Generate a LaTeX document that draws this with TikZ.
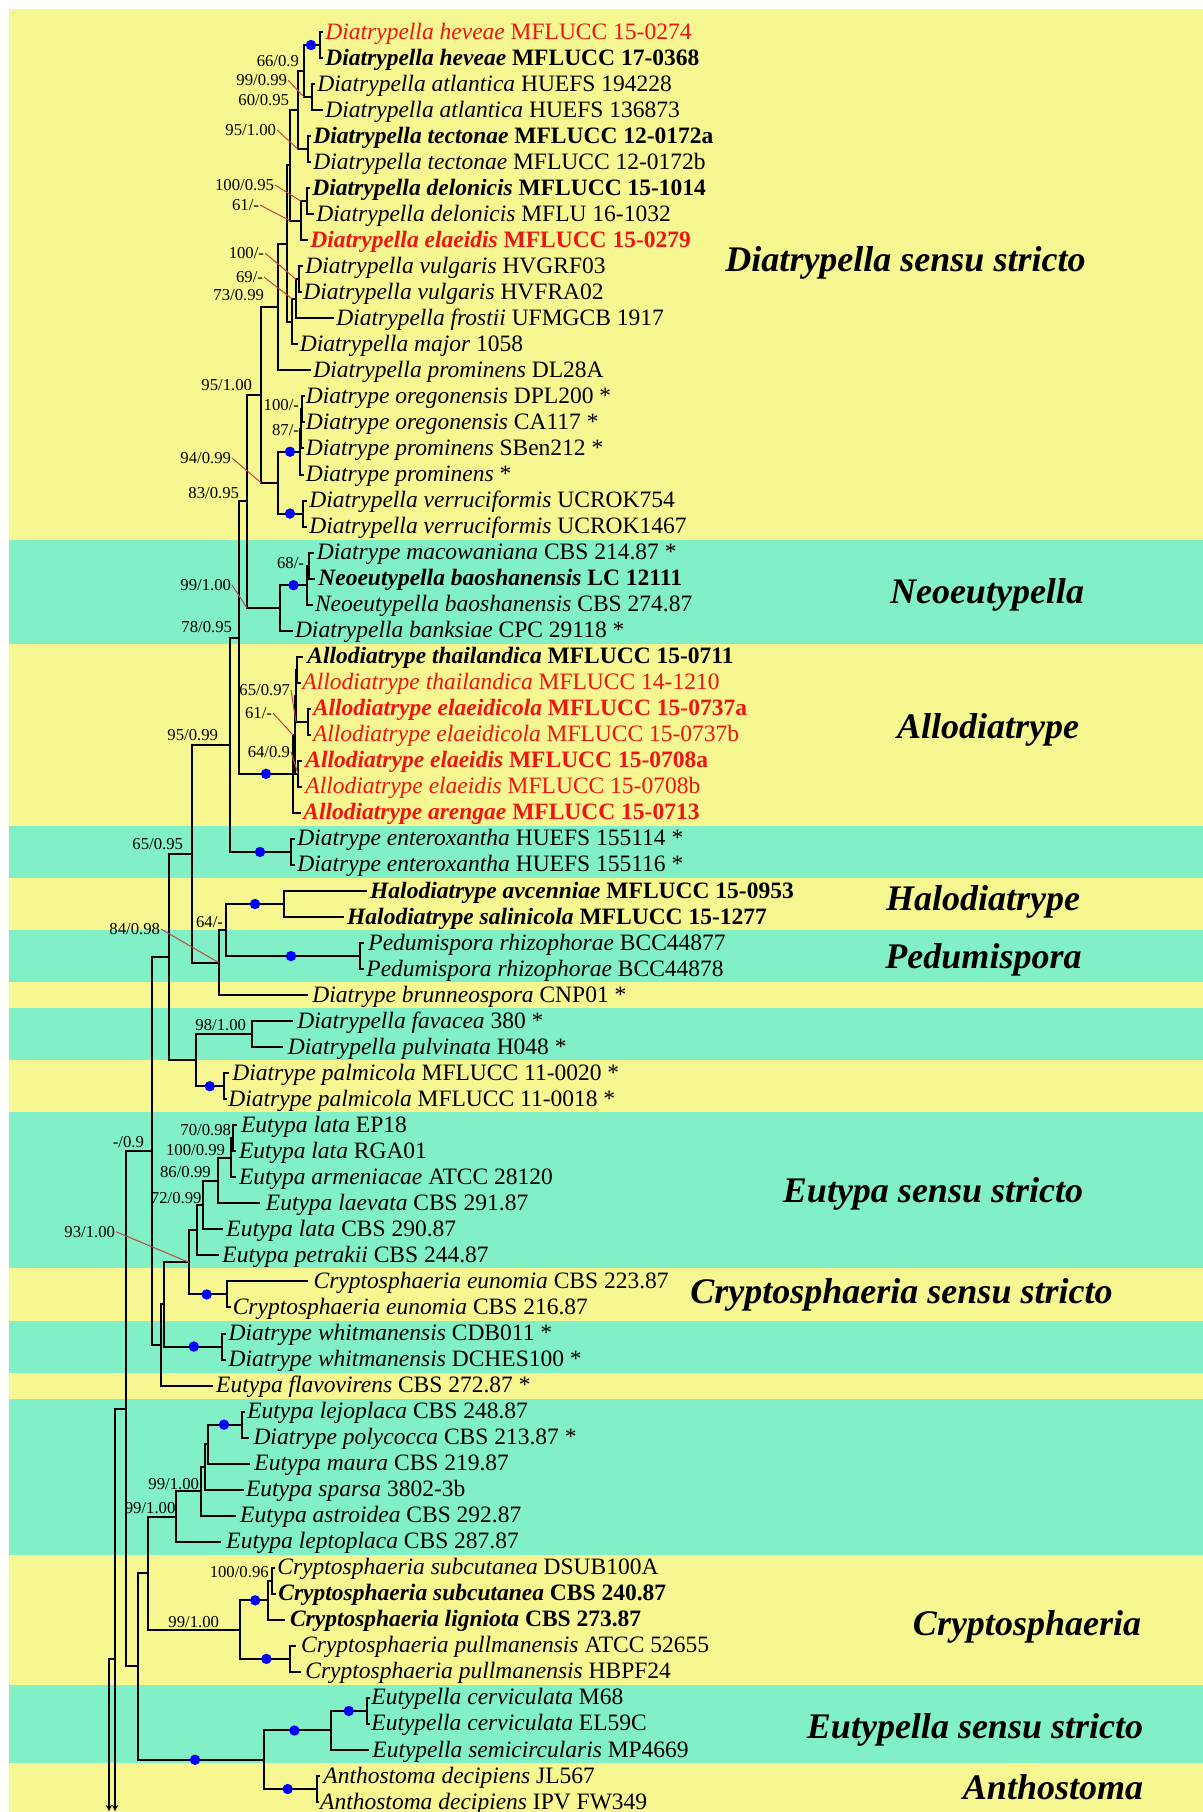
\documentclass[tikz,border=0pt]{standalone}
\usepackage{fontspec}
\setmainfont{Liberation Serif}
\usetikzlibrary{arrows.meta}
\definecolor{yel}{RGB}{247,247,145}
\definecolor{grn}{RGB}{130,240,198}
\definecolor{ldr}{RGB}{190,70,70}
\definecolor{tred}{RGB}{240,20,20}
\definecolor{dotb}{RGB}{0,0,255}
\newcommand\tn[2]{\textit{#1} #2}
\newcommand\tbf[2]{\textbf{\textit{#1} #2}}
\tikzset{
  br/.style={line width=1pt, line cap=rect},
  tax/.style={anchor=base west, inner sep=0pt, font=\fontsize{11.75pt}{13pt}\selectfont},
  redtx/.style={text=tred},
  sup/.style={anchor=east, inner sep=0.3pt, font=\fontsize{8.35pt}{9pt}\selectfont},
  leader/.style={ldr, line width=0.5pt},
  clade/.style={anchor=base, inner sep=0pt, font=\fontsize{18pt}{20pt}\selectfont\bfseries\itshape},
  downarrow/.style={br, line cap=butt, -{Stealth[length=3pt,width=3pt]}},
}
\newcommand\tip[5][]{%
  \coordinate (t#2) at (#3,{32+(#2-1)*26.03});
  \node[tax,#1] (L#2) at (#4,{39+(#2-1)*26.03}) {#5};}
\newcommand\inode[4]{%
  \path (#3) -- (#4) coordinate[pos=0.5] (#1m);
  \coordinate (#1) at (#1m -| #2,0);
  \draw[br] (#1) |- (#3);
  \draw[br] (#1) |- (#4);}
\newcommand\bdot[2]{\fill[dotb] (#1 -| #2,0) circle[radius=2.6pt];}
\begin{document}
\begin{tikzpicture}[x=0.5pt,y=-0.5pt]
\useasboundingbox (0,0) rectangle (1203,1812);
% bands
\fill[yel] (9,9) rectangle (1203,539.585);
\fill[grn] (9,539.585) rectangle (1203,643.705);
\fill[yel] (9,643.705) rectangle (1203,825.915);
\fill[grn] (9,825.915) rectangle (1203,877.975);
\fill[yel] (9,877.975) rectangle (1203,930.035);
\fill[grn] (9,930.035) rectangle (1203,982.095);
\fill[yel] (9,982.095) rectangle (1203,1008.125);
\fill[grn] (9,1008.125) rectangle (1203,1060.185);
\fill[yel] (9,1060.185) rectangle (1203,1112.245);
\fill[grn] (9,1112.245) rectangle (1203,1268.425);
\fill[yel] (9,1268.425) rectangle (1203,1320.485);
\fill[grn] (9,1320.485) rectangle (1203,1372.545);
\fill[yel] (9,1372.545) rectangle (1203,1398.575);
\fill[grn] (9,1398.575) rectangle (1203,1554.755);
\fill[yel] (9,1554.755) rectangle (1203,1684.905);
\fill[grn] (9,1684.905) rectangle (1203,1763.075);
\fill[yel] (9,1763.075) rectangle (1203,1812);
% tips
\tip[redtx]{1}{322}{325}{\tn{Diatrypella heveae}{MFLUCC 15-0274}}
\tip{2}{322}{325}{\tbf{Diatrypella heveae}{MFLUCC 17-0368}}
\tip{3}{314}{317}{\tn{Diatrypella atlantica}{HUEFS 194228}}
\tip{4}{322}{325}{\tn{Diatrypella atlantica}{HUEFS 136873}}
\tip{5}{310}{313}{\tbf{Diatrypella tectonae}{MFLUCC 12-0172a}}
\tip{6}{310}{313}{\tn{Diatrypella tectonae}{MFLUCC 12-0172b}}
\tip{7}{309}{312}{\tbf{Diatrypella delonicis}{MFLUCC 15-1014}}
\tip{8}{313}{316}{\tn{Diatrypella delonicis}{MFLU 16-1032}}
\tip[redtx]{9}{307}{310}{\tbf{Diatrypella elaeidis}{MFLUCC 15-0279}}
\tip{10}{302}{305}{\tn{Diatrypella vulgaris}{HVGRF03}}
\tip{11}{300.5}{303}{\tn{Diatrypella vulgaris}{HVFRA02}}
\tip{12}{333}{336}{\tn{Diatrypella frostii}{UFMGCB 1917}}
\tip{13}{297}{299.5}{\tn{Diatrypella major}{1058}}
\tip{14}{310}{313}{\tn{Diatrypella prominens}{DL28A}}
\tip{15}{303.5}{305.5}{\tn{Diatrype oregonensis}{DPL200 *}}
\tip{16}{303.5}{305.5}{\tn{Diatrype oregonensis}{CA117 *}}
\tip{17}{303}{305.5}{\tn{Diatrype prominens}{SBen212 *}}
\tip{18}{303}{305.5}{\tn{Diatrype prominens}{*}}
\tip{19}{306}{309}{\tn{Diatrypella verruciformis}{UCROK754}}
\tip{20}{306}{309}{\tn{Diatrypella verruciformis}{UCROK1467}}
\tip{21}{313}{316.5}{\tn{Diatrype macowaniana}{CBS 214.87 *}}
\tip{22}{314}{318}{\tbf{Neoeutypella baoshanensis}{LC 12111}}
\tip{23}{311.5}{314.6}{\tn{Neoeutypella baoshanensis}{CBS 274.87}}
\tip{24}{291.5}{294.6}{\tn{Diatrypella banksiae}{CPC 29118 *}}
\tip{25}{302}{307}{\tbf{Allodiatrype thailandica}{MFLUCC 15-0711}}
\tip[redtx]{26}{299.5}{302}{\tn{Allodiatrype thailandica}{MFLUCC 14-1210}}
\tip[redtx]{27}{310}{312.6}{\tbf{Allodiatrype elaeidicola}{MFLUCC 15-0737a}}
\tip[redtx]{28}{310}{312.6}{\tn{Allodiatrype elaeidicola}{MFLUCC 15-0737b}}
\tip[redtx]{29}{301}{305}{\tbf{Allodiatrype elaeidis}{MFLUCC 15-0708a}}
\tip[redtx]{30}{301}{305}{\tn{Allodiatrype elaeidis}{MFLUCC 15-0708b}}
\tip[redtx]{31}{300}{303}{\tbf{Allodiatrype arengae}{MFLUCC 15-0713}}
\tip{32}{294}{297}{\tn{Diatrype enteroxantha}{HUEFS 155114 *}}
\tip{33}{294}{297}{\tn{Diatrype enteroxantha}{HUEFS 155116 *}}
\tip{34}{366}{369.8}{\tbf{Halodiatrype avcenniae}{MFLUCC 15-0953}}
\tip{35}{343}{346.8}{\tbf{Halodiatrype salinicola}{MFLUCC 15-1277}}
\tip{36}{363}{368}{\tn{Pedumispora rhizophorae}{BCC44877}}
\tip{37}{363}{366}{\tn{Pedumispora rhizophorae}{BCC44878}}
\tip{38}{307}{312}{\tn{Diatrype brunneospora}{CNP01 *}}
\tip{39}{292}{297}{\tn{Diatrypella favacea}{380 *}}
\tip{40}{282}{287.5}{\tn{Diatrypella pulvinata}{H048 *}}
\tip{41}{228}{232}{\tn{Diatrype palmicola}{MFLUCC 11-0020 *}}
\tip{42}{225.5}{228}{\tn{Diatrype palmicola}{MFLUCC 11-0018 *}}
\tip{43}{236}{240.7}{\tn{Eutypa lata}{EP18}}
\tip{44}{235}{238.6}{\tn{Eutypa lata}{RGA01}}
\tip{45}{235}{238.6}{\tn{Eutypa armeniacae}{ATCC 28120}}
\tip{46}{259.3}{265.5}{\tn{Eutypa laevata}{CBS 291.87}}
\tip{47}{222}{226}{\tn{Eutypa lata}{CBS 290.87}}
\tip{48}{218}{222}{\tn{Eutypa petrakii}{CBS 244.87}}
\tip{49}{307}{313.2}{\tn{Cryptosphaeria eunomia}{CBS 223.87}}
\tip{50}{229.5}{232.4}{\tn{Cryptosphaeria eunomia}{CBS 216.87}}
\tip{51}{225}{228.2}{\tn{Diatrype whitmanensis}{CDB011 *}}
\tip{52}{225}{228.2}{\tn{Diatrype whitmanensis}{DCHES100 *}}
\tip{53}{211.7}{215.8}{\tn{Eutypa flavovirens}{CBS 272.87 *}}
\tip{54}{244}{246.9}{\tn{Eutypa lejoplaca}{CBS 248.87}}
\tip{55}{248}{253.1}{\tn{Diatrype polycocca}{CBS 213.87 *}}
\tip{56}{249}{254}{\tn{Eutypa maura}{CBS 219.87}}
\tip{57}{242.7}{245.6}{\tn{Eutypa sparsa}{3802-3b}}
\tip{58}{234.5}{239.8}{\tn{Eutypa astroidea}{CBS 292.87}}
\tip{59}{220}{226}{\tn{Eutypa leptoplaca}{CBS 287.87}}
\tip{60}{274}{277}{\tn{Cryptosphaeria subcutanea}{DSUB100A}}
\tip{61}{274.5}{278}{\tbf{Cryptosphaeria subcutanea}{CBS 240.87}}
\tip{62}{284.2}{289.6}{\tbf{Cryptosphaeria ligniota}{CBS 273.87}}
\tip{63}{295}{300.8}{\tn{Cryptosphaeria pullmanensis}{ATCC 52655}}
\tip{64}{300}{305}{\tn{Cryptosphaeria pullmanensis}{HBPF24}}
\tip{65}{368.5}{371}{\tn{Eutypella cerviculata}{M68}}
\tip{66}{368.5}{371}{\tn{Eutypella cerviculata}{EL59C}}
\tip{67}{367.6}{372}{\tn{Eutypella semicircularis}{MP4669}}
\tip{68}{319}{323}{\tn{Anthostoma decipiens}{JL567}}
\tip{69}{318}{319.8}{\tn{Anthostoma decipiens}{IPV FW349}}
% internal nodes
\inode{HV}{320}{t1}{t2}
\inode{AT}{312}{t3}{t4}
\inode{P1}{304}{HV}{AT}
\inode{TE}{308}{t5}{t6}
\inode{P2}{298}{P1}{TE}
\inode{DE}{307}{t7}{t8}
\inode{P4}{301}{DE}{t9}
\inode{P3}{290}{P2}{P4}
\inode{V1}{299}{t10}{t11}
\inode{V2}{296}{V1}{t12}
\inode{S}{292}{V2}{t13}
\inode{R}{287}{P3}{S}
\inode{Q}{278}{R}{t14}
\inode{O1}{302}{t15}{t16}
\inode{O2}{301}{O1}{t17}
\inode{O3}{300}{O2}{t18}
\inode{VE}{303}{t19}{t20}
\inode{U}{278}{O3}{VE}
\inode{T}{261}{Q}{U}
\inode{N3}{309}{t21}{t22}
\inode{N2}{307}{N3}{t23}
\inode{N1}{280}{N2}{t24}
\inode{W}{247}{T}{N1}
\inode{DP}{297}{t25}{t26}
\inode{A1}{308}{t27}{t28}
\inode{D}{296}{DP}{A1}
\inode{A2}{298}{t29}{t30}
\inode{C}{295}{D}{A2}
\inode{B}{292.7}{C}{t31}
\inode{X}{239}{W}{B}
\inode{EN}{291.4}{t32}{t33}
\inode{Y}{230}{X}{EN}
\inode{HA}{283.7}{t34}{t35}
\inode{PE}{360}{t36}{t37}
\inode{H1}{226}{HA}{PE}
\inode{H0}{218.6}{H1}{t38}
\inode{Z}{192}{Y}{H0}
\inode{FP}{252}{t39}{t40}
\inode{PM}{224.4}{t41}{t42}
\inode{PF}{195.7}{FP}{PM}
\inode{ZZ}{169}{Z}{PF}
\inode{E1}{233}{t43}{t44}
\inode{E2}{231}{E1}{t45}
\inode{E3}{217.9}{E2}{t46}
\inode{E4}{203.4}{E3}{t47}
\inode{E5}{197.1}{E4}{t48}
\inode{CE}{227.4}{t49}{t50}
\inode{E6}{188.9}{E5}{CE}
\inode{WH}{222}{t51}{t52}
\inode{E7}{164}{E6}{WH}
\inode{E8}{161}{E7}{t53}
\inode{M}{151.6}{ZZ}{E8}
\inode{LG1}{241.9}{t54}{t55}
\inode{LG2}{207.5}{LG1}{t56}
\inode{LG3}{204.6}{LG2}{t57}
\inode{LG4}{201.3}{LG3}{t58}
\inode{LG5}{176.4}{LG4}{t59}
\inode{CS1}{271.8}{t60}{t61}
\inode{CS2}{267.6}{CS1}{t62}
\inode{CP}{290.4}{t63}{t64}
\inode{CG}{239.8}{CS2}{CP}
\inode{LG6}{148.2}{LG5}{CG}
\inode{EC1}{366.7}{t65}{t66}
\inode{EC2}{331}{EC1}{t67}
\inode{AD}{316.7}{t68}{t69}
\inode{EA}{264}{EC2}{AD}
\inode{J}{138.3}{LG6}{EA}
\inode{LL}{126}{M}{J}
% root lines continuing downwards
\coordinate (K) at (LL -| 115,0);
\coordinate (Kb) at (115,1811);
\coordinate (K2) at (109,1659);
\coordinate (K2b) at (109,1811);
\draw[br] (K) |- (LL);
\draw[br] (K2) -- (K2 -| K);
\draw[downarrow] (K) -- (Kb);
\draw[downarrow] (K2) -- (K2b);
% dots
\bdot{HV}{311}
\bdot{O3}{290}
\bdot{VE}{290}
\bdot{N2}{293.5}
\bdot{B}{266}
\bdot{EN}{260}
\bdot{HA}{255}
\bdot{PE}{291}
\bdot{PM}{209.8}
\bdot{CE}{206.7}
\bdot{WH}{193.8}
\bdot{LG1}{224}
\bdot{CS2}{255.2}
\bdot{CP}{266.4}
\bdot{EC1}{348.8}
\bdot{EC2}{294.4}
\bdot{AD}{287.7}
\bdot{EA}{195}
% support values
\node[sup] (s1) at (300,61) {66/0.9};
\node[sup] (s2) at (288,80) {99/0.99};
\node[sup] (s3) at (290,100) {60/0.95};
\node[sup] (s4) at (277,130) {95/1.00};
\node[sup] (s5) at (275,185) {100/0.95};
\node[sup] (s6) at (260,205) {61/-};
\node[sup] (s7) at (265,253) {100/-};
\node[sup] (s8) at (264,277) {69/-};
\node[sup] (s9) at (265,295) {73/0.99};
\node[sup] (s10) at (253,385) {95/1.00};
\node[sup] (s11) at (300,405) {100/-};
\node[sup] (s12) at (300,430) {87/-};
\node[sup] (s13) at (232,458) {94/0.99};
\node[sup] (s14) at (240,493) {83/0.95};
\node[sup] (s15) at (305,563) {68/-};
\node[sup] (s16) at (232,585) {99/1.00};
\node[sup] (s17) at (233,627) {78/0.95};
\node[sup] (s18) at (291,690) {65/0.97};
\node[sup] (s19) at (273,713) {61/-};
\node[sup] (s20) at (291,752) {64/0.9};
\node[sup] (s21) at (219,735) {95/0.99};
\node[sup] (s22) at (184,844) {65/0.95};
\node[sup] (s23) at (224,921.7) {64/-};
\node[sup] (s24) at (161,929) {84/0.98};
\node[sup] (s25) at (247,1025) {98/1.00};
\node[sup] (s26) at (145,1141.7) {-/0.9};
\node[sup] (s27) at (232,1130) {70/0.98};
\node[sup] (s28) at (226,1150) {100/0.99};
\node[sup] (s29) at (211.7,1171.7) {86/0.99};
\node[sup] (s30) at (202.5,1198.3) {72/0.99};
\node[sup] (s31) at (116,1231.7) {93/1.00};
\node[sup] (s32) at (200,1484) {99/1.00};
\node[sup] (s33) at (176.4,1508) {99/1.00};
\node[sup] (s34) at (269.7,1571.7) {100/0.96};
\node[sup] (s35) at (220,1621.7) {99/1.00};
% leader lines
\draw[leader] (s2.east) -- (AT -| P1);
\draw[leader] (s4.east) -- (TE -| P2);
\draw[leader] (s5.east) -- (DE -| P4);
\draw[leader] (s6.east) -- (P4 -| P3);
\draw[leader] (s7.east) -- (V1 -| V2);
\draw[leader] (s8.east) -- (V2 -| S);
\draw[leader] (s13.east) -- (U -| T);
\draw[leader] (s16.east) -- (N1 -| W);
\draw[leader] (s18.east) -- (A1 -| D);
\draw[leader] (s19.east) -- (C -| B);
\draw[leader] (s20.east) -- (A2);
\draw[leader] (s24.east) -- (H0);
\draw[leader] (s31.east) -- (E6);
% clade names
\node[clade] (c1) at (905.5,271) {Diatrypella sensu stricto};
\node[clade] (c2) at (987,603) {Neoeutypella};
\node[clade] (c3) at (988,738) {Allodiatrype};
\node[clade] (c4) at (983,910) {Halodiatrype};
\node[clade] (c5) at (983.5,968) {Pedumispora};
\node[clade] (c6) at (933,1202) {Eutypa sensu stricto};
\node[clade] (c7) at (901.5,1303) {Cryptosphaeria sensu stricto};
\node[clade] (c8) at (1027,1635) {Cryptosphaeria};
\node[clade] (c9) at (975,1738) {Eutypella sensu stricto};
\node[clade] (c10) at (1053,1799) {Anthostoma};
\end{tikzpicture}
\end{document}
